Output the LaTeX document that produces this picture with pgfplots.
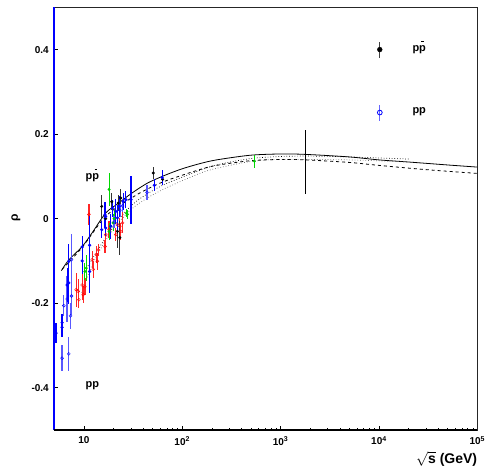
\documentclass[border=0pt]{standalone}
\usepackage{fontspec}
\setmainfont{Liberation Sans}
\usepackage{pgfplots}
\pgfplotsset{compat=1.18}
\usepackage{pgfplotstable}

\newcommand{\pbar}{\leavevmode\rlap{\raisebox{0.82em}{\hspace{0.2em}\rule{0.26em}{0.07em}}}p}

\pgfplotstableread{
x y e
5.21 -0.271 0.024
6.0 -0.257 0.022
6.0 -0.246 0.020
6.75 -0.157 0.040
7.02 -0.152 0.050
7.02 -0.101 0.040
9.6 -0.100 0.030
9.6 -0.067 0.025
11.43 -0.063 0.070
11.43 -0.125 0.050
16.4 0.009 0.030
16.67 -0.022 0.020
19.5 0.025 0.020
22.8 0.029 0.025
25.1 0.041 0.020
26.7 0.045 0.020
18.76 -0.018 0.030
21.1 0.017 0.030
16.67 0.005 0.020
15.17 -0.026 0.020
21.9 0.002 0.030
30.1 0.045 0.057
52.0 0.079 0.014
62.4 0.097 0.018
}\bluefilled

\pgfplotstableread{
x y e
6.0 -0.330 0.030
6.24 -0.206 0.025
6.75 -0.190 0.055
7.02 -0.320 0.040
7.31 -0.230 0.030
7.48 -0.183 0.045
7.48 -0.097 0.060
43.8 0.062 0.018
23.2 0.020 0.015
20.3 -0.008 0.015
24.7 0.030 0.015
}\blueopen

\pgfplotstableread{
x y e
8.34 -0.168 0.040
8.74 -0.172 0.030
8.89 -0.192 0.020
9.6 -0.157 0.035
9.84 -0.180 0.020
10.24 -0.161 0.020
11.25 0.010 0.025
12.16 -0.097 0.020
12.45 -0.120 0.020
13.37 -0.085 0.020
13.69 -0.101 0.020
14.0 -0.074 0.015
16.4 -0.066 0.015
16.67 -0.038 0.020
18.03 -0.026 0.020
21.1 -0.038 0.015
21.9 -0.014 0.015
23.2 -0.018 0.020
23.7 -0.030 0.020
24.7 -0.010 0.025
}\reddata

\pgfplotstableread{
x y e
10.24 -0.125 0.020
10.56 -0.117 0.030
18.03 -0.030 0.020
18.76 -0.018 0.020
19.8 -0.010 0.020
18.03 0.069 0.038
20.3 0.000 0.020
27.1 0.013 0.010
27.7 0.010 0.010
540 0.136 0.015
}\greendata

\pgfplotstableread{
x y e
15.17 0.029 0.028
16.67 0.000 0.020
19.2 0.040 0.020
22.3 0.037 0.020
23.7 0.049 0.020
21.9 -0.030 0.040
23.2 -0.045 0.040
50.8 0.108 0.015
63.2 0.093 0.010
}\blackdata

\pgfplotstableread{
x y e
1800 0.134 0.075
}\tevatron

\begin{document}
\bfseries
\begin{tikzpicture}[x=1pt,y=1pt]
\path[use as bounding box] (0,0) rectangle (490,467);
\node[rotate=90,font=\fontsize{12}{14}\selectfont] at (16,249) {ρ};
\begin{axis}[
  at={(54.3pt,37pt)}, anchor=south west,
  width=423pt, height=422.7pt, scale only axis,
  xmode=log, xmin=5, xmax=1e5, ymin=-0.5, ymax=0.5,
  axis line style={black!85, line width=0.6pt},
  xtick={10,100,1000,10000,100000},
  xticklabels={10, 10\textsuperscript{2}, 10\textsuperscript{3}, 10\textsuperscript{4}, 10\textsuperscript{5}},
  ytick={-0.4,-0.2,0,0.2,0.4},
  yticklabels={-0.4,-0.2,0,0.2,0.4},
  tick align=inside, tick pos=left,
  major tick length=4pt, minor tick length=2.5pt,
  tick style={black, line width=0.6pt},
  ticklabel style={font=\bfseries\fontsize{10}{12}\selectfont},
  xticklabel style={yshift=-3pt},
  yticklabel style={xshift=-2pt},
  clip=false,
  error bars/y dir=both, error bars/y explicit,
  error bars/error mark=none,
]
% model curves
\addplot[black, line width=0.8pt, smooth] coordinates {
(5.9,-0.123) (7,-0.098) (9.6,-0.066) (12,-0.035) (16.7,0.0135) (22,0.035) (31,0.061) (45,0.085) (69,0.104) (100,0.118) (150,0.130) (223,0.139) (490,0.150) (1000,0.153) (1800,0.152) (5000,0.146) (10000,0.139) (20000,0.134) (50000,0.127) (100000,0.122)};
\addplot[black, line width=0.8pt, dashed, smooth] coordinates {
(6,-0.120) (9.6,-0.068) (16.7,0.006) (31,0.050) (45,0.071) (69,0.090) (150,0.116) (223,0.126) (490,0.137) (1000,0.140) (1800,0.139) (5000,0.133) (10000,0.126) (30000,0.116) (100000,0.107)};
\addplot[black, line width=0.7pt, dotted, smooth] coordinates {
(11,-0.112) (14,-0.072) (17,-0.042) (22,-0.005) (31,0.033) (45,0.060) (69,0.083) (150,0.114) (223,0.127) (490,0.142) (1000,0.147) (2000,0.148) (5000,0.146) (20000,0.141)};
\addplot[black!60, line width=0.7pt, dotted, smooth] coordinates {
(9.5,-0.175) (12,-0.112) (16,-0.058) (22,-0.012) (31,0.024) (45,0.050) (69,0.073) (150,0.107) (223,0.119) (490,0.135) (1000,0.140) (5000,0.139) (20000,0.134)};
% data
\addplot[only marks, red, mark=o, mark size=1.5pt, error bars/error bar style={red!85, line width=1.2pt}] table[x=x,y=y,y error=e] {\reddata};
\addplot[only marks, green!80!black, mark=*, mark size=1.3pt, error bars/error bar style={green!85!black, line width=1.1pt}] table[x=x,y=y,y error=e] {\greendata};
\addplot[only marks, black, mark=*, mark size=1.3pt, error bars/error bar style={black!80, line width=1.1pt}] table[x=x,y=y,y error=e] {\blackdata};
\addplot[only marks, blue, mark=o, mark size=1.5pt, error bars/error bar style={blue!65, line width=1.4pt}] table[x=x,y=y,y error=e] {\blueopen};
\addplot[only marks, blue, mark=*, mark size=1.4pt, error bars/error bar style={blue, line width=1.2pt}] table[x=x,y=y,y error=e] {\bluefilled};
% Tevatron point (bar only)
\addplot[only marks, black, mark size=0pt, error bars/error bar style={black, line width=0.9pt}] table[x=x,y=y,y error=e] {\tevatron};
% legend symbols
\addplot[only marks, black, mark=*, mark size=2.4pt, error bars/error bar style={black!75, line width=1pt}] table[x=x,y=y,y error=e] {
x y e
10200 0.400 0.019
};
\addplot[only marks, blue, mark=o, mark size=2.4pt, mark options={fill=white, line width=0.8pt}, error bars/error bar style={blue!60, line width=1.2pt}] table[x=x,y=y,y error=e] {
x y e
10200 0.251 0.019
};
% axis decorations
\draw[blue, line width=1.8pt] (rel axis cs:0,0) -- (rel axis cs:0,1);
\draw[black, line width=1.2pt] (rel axis cs:0,0) -- (rel axis cs:1,0);
% texts
\node[anchor=west, font=\bfseries\fontsize{11}{13}\selectfont] at (axis cs:20200,0.405) {p\pbar};
\node[anchor=west, font=\bfseries\fontsize{11}{13}\selectfont] at (axis cs:20200,0.254) {pp};
\node[anchor=west, font=\bfseries\fontsize{11}{13}\selectfont] at (axis cs:9.6,0.102) {p\pbar};
\node[anchor=west, font=\bfseries\fontsize{11}{13}\selectfont] at (axis cs:9.6,-0.396) {pp};
\node[anchor=base east, font=\bfseries\fontsize{14}{16}\selectfont, inner sep=0pt] at ([yshift=-33pt]rel axis cs:1,0) {\ensuremath{\sqrt{\mbox{\bfseries s}}}\ (GeV)};
\end{axis}
\end{tikzpicture}
\end{document}
